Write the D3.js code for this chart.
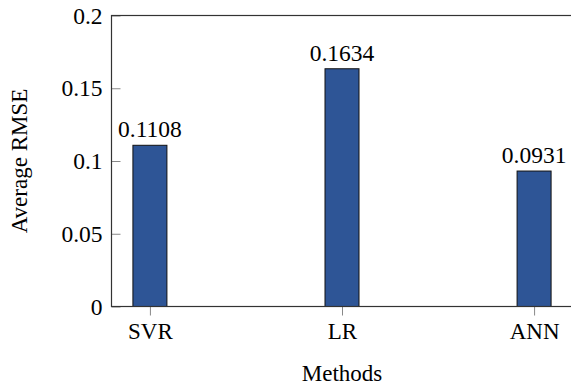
<!DOCTYPE html>
<html>
<head>
<meta charset="utf-8">
<script src="https://cdn.jsdelivr.net/npm/d3@7"></script>
<style>
  body { margin: 0; background: #fff; }
  svg { display: block; }
  text { font-family: "Liberation Serif", "Times New Roman", serif; fill: #000; }
</style>
</head>
<body>
<div id="chart"></div>
<script>
// data
const methods = ["SVR", "LR", "ANN"];
const rmse = [0.1108, 0.1634, 0.0931];
const yTicks = [0, 0.05, 0.1, 0.15, 0.2];
const yTickLabels = ["0", "0.05", "0.1", "0.15", "0.2"];

const W = 571, H = 385;
const plot = { left: 111.5, top: 15.5, right: 572.5, bottom: 306.5 };

const svg = d3.select("#chart").append("svg")
    .attr("width", W)
    .attr("height", H);

const x = d3.scalePoint()
    .domain(methods)
    .range([plot.left, plot.right])
    .padding(0.2);

const y = d3.scaleLinear()
    .domain([0, 0.2])
    .range([plot.bottom, plot.top]);

const barW = 34;

// bars
svg.selectAll("rect.bar")
    .data(methods)
    .enter()
    .append("rect")
    .attr("class", "bar")
    .attr("x", d => x(d) - barW / 2)
    .attr("y", (d, i) => y(rmse[i]))
    .attr("width", barW)
    .attr("height", (d, i) => y(0) - y(rmse[i]))
    .attr("fill", "#2e5596")
    .attr("stroke", "#111")
    .attr("stroke-width", 1);

// value labels on top of bars
svg.selectAll("text.val")
    .data(methods)
    .enter()
    .append("text")
    .attr("class", "val")
    .attr("x", d => x(d))
    .attr("y", (d, i) => y(rmse[i]) - 8)
    .attr("text-anchor", "middle")
    .style("font-size", "23.5px")
    .text((d, i) => rmse[i].toFixed(4));

// y axis ticks (inside) + labels
const yAxis = d3.axisRight(y)
    .tickValues(yTicks)
    .tickSize(9)
    .tickFormat((d, i) => yTickLabels[i]);

const gy = svg.append("g")
    .attr("transform", `translate(${plot.left},0)`)
    .call(yAxis);
gy.select(".domain").remove();
gy.selectAll(".tick line").attr("stroke", "#888");
gy.selectAll(".tick text")
    .attr("x", -9)
    .attr("dy", "0.32em")
    .attr("text-anchor", "end")
    .style("font-size", "23.5px");

// x axis ticks (outside) + labels
const xAxis = d3.axisBottom(x).tickSize(9).tickPadding(7);
const gx = svg.append("g")
    .attr("transform", `translate(0,${plot.bottom})`)
    .call(xAxis);
gx.select(".domain").remove();
gx.selectAll(".tick line").attr("stroke", "#888");
gx.selectAll(".tick text")
    .style("font-size", "23px");

// axis box
svg.append("rect")
    .attr("x", plot.left)
    .attr("y", plot.top)
    .attr("width", plot.right - plot.left)
    .attr("height", plot.bottom - plot.top)
    .attr("fill", "none")
    .attr("stroke", "#333")
    .attr("stroke-width", 1.2);

// axis titles
svg.append("text")
    .attr("x", (plot.left + plot.right) / 2)
    .attr("y", 381)
    .attr("text-anchor", "middle")
    .style("font-size", "23px")
    .text("Methods");

svg.append("text")
    .attr("transform", `translate(27,${(plot.top + plot.bottom) / 2}) rotate(-90)`)
    .attr("text-anchor", "middle")
    .style("font-size", "23px")
    .text("Average RMSE");
</script>
</body>
</html>
